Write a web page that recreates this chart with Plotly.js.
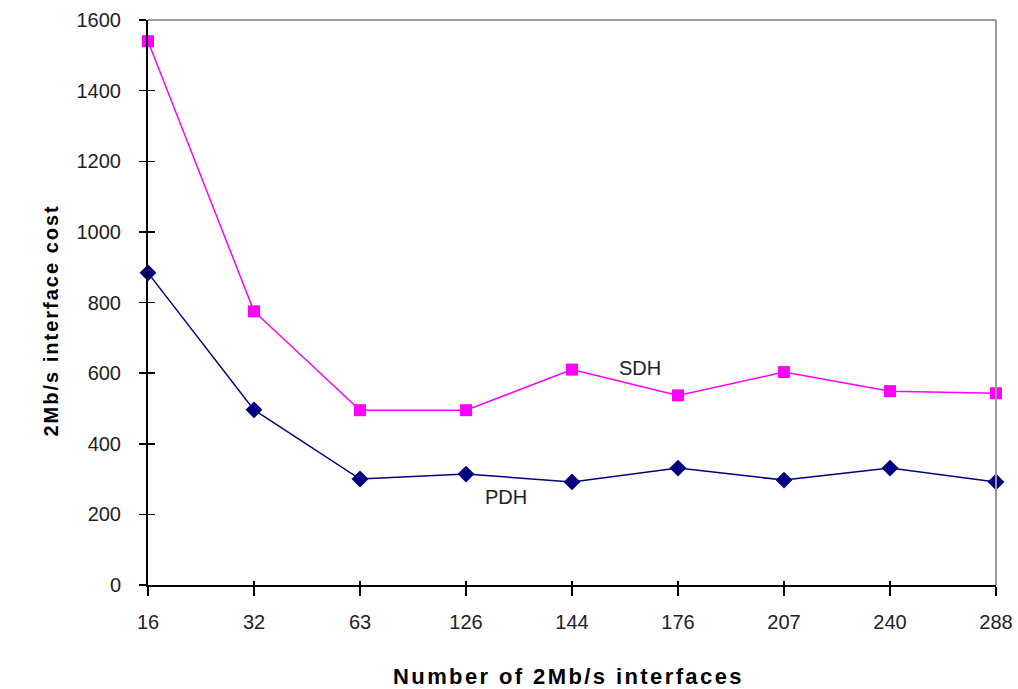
<!DOCTYPE html>
<html>
<head>
<meta charset="utf-8">
<script src="https://cdn.plot.ly/plotly-3.0.1.min.js"></script>
<style>html,body{margin:0;padding:0;background:#fff;}#chart{width:1018px;height:689px;}</style>
</head>
<body>
<div id="chart"></div>
<script>
var categories = ["16", "32", "63", "126", "144", "176", "207", "240", "288"];
var sdhValues = [1540, 775, 495, 495, 610, 537, 603, 549, 543];
var pdhValues = [884, 496, 300, 314, 292, 331, 297, 331, 292];
var yTicks = [0, 200, 400, 600, 800, 1000, 1200, 1400, 1600];

var traces = [
  {x: categories, y: pdhValues, name: "PDH", type: "scatter", mode: "lines+markers",
   line: {color: "#000080", width: 1.5},
   marker: {symbol: "diamond", size: 13, color: "#000080"}, cliponaxis: false},
  {x: categories, y: sdhValues, name: "SDH", type: "scatter", mode: "lines+markers",
   xaxis: "x2", yaxis: "y2",
   line: {color: "#ff00ff", width: 1.5},
   marker: {symbol: "square", size: 12, color: "#ff00ff"}, cliponaxis: false}
];

var fam = "Liberation Sans, Arial, sans-serif";
var axisFont = {family: fam, size: 20, color: "#222"};
var layout = {
  width: 1018, height: 689,
  margin: {l: 148, r: 22, t: 20, b: 104},
  paper_bgcolor: "#fff", plot_bgcolor: "#fff",
  showlegend: false,
  xaxis: {
    type: "category", range: [0, 8], showgrid: false, zeroline: false,
    showline: true, linecolor: "#000", linewidth: 2,
    ticks: "outside", ticklen: 9, tickwidth: 1.5, tickcolor: "#000",
    tickfont: axisFont, ticklabelstandoff: 9
  },
  yaxis: {
    range: [0, 1600], tickvals: yTicks, showgrid: false, zeroline: false,
    showline: true, linecolor: "#000", linewidth: 2,
    ticks: "outside", ticklen: 7, tickwidth: 1.5, tickcolor: "#000",
    tickfont: axisFont, ticklabelstandoff: 14
  },
  xaxis2: {
    type: "category", range: [0, 8], overlaying: "x", showgrid: false, zeroline: false,
    showline: false, ticks: "inside", ticklen: 4, tickwidth: 1.5, tickcolor: "#000",
    showticklabels: false
  },
  yaxis2: {
    range: [0, 1600], tickvals: yTicks, overlaying: "y", showgrid: false, zeroline: false,
    showline: false, ticks: "inside", ticklen: 7, tickwidth: 1.5, tickcolor: "#000",
    showticklabels: false
  },
  shapes: [
    {type: "line", xref: "paper", yref: "paper", x0: 0, x1: 1, y0: 1, y1: 1, line: {color: "#999", width: 2}},
    {type: "line", xref: "paper", yref: "paper", x0: 1, x1: 1, y0: 0, y1: 1, line: {color: "#999", width: 2}}
  ],
  annotations: [
    {x: 4.64, y: 615, xref: "x", yref: "y", text: "SDH", showarrow: false, font: {family: fam, size: 20, color: "#222"}},
    {x: 3.38, y: 249, xref: "x", yref: "y", text: "PDH", showarrow: false, font: {family: fam, size: 20, color: "#222"}},
    {x: 0.5, y: 0, xref: "paper", yref: "paper", xshift: -4, yshift: -91, yanchor: "middle",
     text: "<span style=\"letter-spacing:2.4px\"><b>Number of 2Mb/s interfaces</b></span>",
     showarrow: false, font: {family: fam, size: 22, color: "#000"}},
    {x: 0, y: 0.5, xref: "paper", yref: "paper", xshift: -111, yshift: -18, textangle: -90,
     text: "<span style=\"letter-spacing:2px\"><b>2Mb/s interface cost</b></span>",
     showarrow: false, font: {family: fam, size: 20, color: "#000"}}
  ]
};

Plotly.newPlot("chart", traces, layout, {displayModeBar: false, staticPlot: true});
</script>
</body>
</html>
